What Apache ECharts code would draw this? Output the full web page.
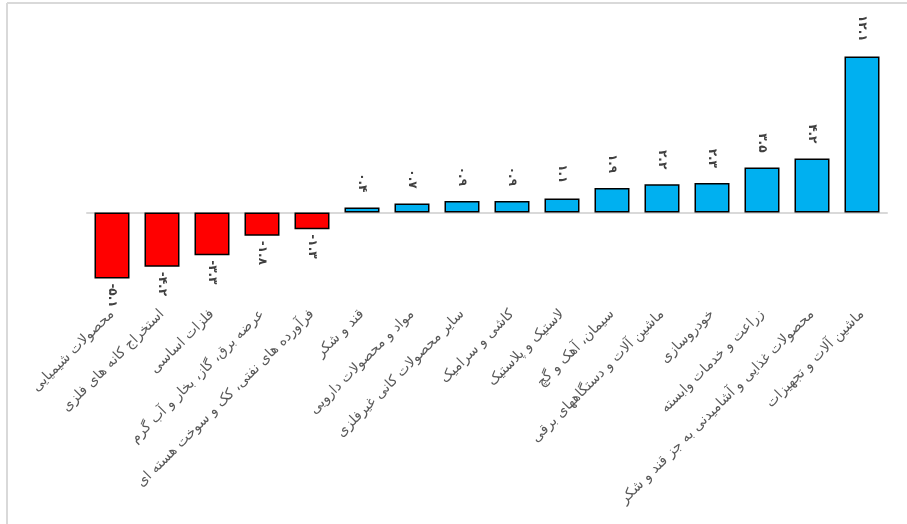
<!DOCTYPE html>
<html>
<head>
<meta charset="utf-8">
<script src="https://cdn.jsdelivr.net/npm/echarts@6/dist/echarts.min.js"></script>
<style>
html,body{margin:0;padding:0;background:#fff;}
#chart{width:907px;height:524px;}
</style>
</head>
<body>
<div id="chart"></div>
<script>
const categories = [
  'محصولات شیمیایی',
  'استخراج کانه های فلزی',
  'فلزات اساسی',
  'عرضه برق، گاز، بخار و آب گرم',
  'فرآورده های نفتی، کک و سوخت هسته ای',
  'قند و شکر',
  'مواد و محصولات دارویی',
  'سایر محصولات کانی غیرفلزی',
  'کاشی و سرامیک',
  'لاستیک و پلاستیک',
  'سیمان، آهک و گچ',
  'ماشین آلات و دستگاههای برقی',
  'خودروسازی',
  'زراعت و خدمات وابسته',
  'محصولات غذایی و آشامیدنی به جز قند و شکر',
  'ماشین آلات و تجهیزات'
];
const values = [-5.1, -4.2, -3.3, -1.8, -1.3, 0.4, 0.7, 0.9, 0.9, 1.1, 1.9, 2.2, 2.3, 3.5, 4.2, 12.1];

const faDigits = '۰۱۲۳۴۵۶۷۸۹';
function toFa(v){
  return v.toFixed(1).replace(/[0-9]/g, d => faDigits[+d]);
}

const RED = '#FF0000', BLUE = '#00B0F0';
const data = values.map(v => ({
  value: v,
  itemStyle: {color: v < 0 ? RED : BLUE},
  label: v < 0
    ? {position: 'bottom', align: 'left', distance: 5}
    : {position: 'top', align: 'right', distance: 15}
}));

const chart = echarts.init(document.getElementById('chart'), null, {renderer: 'canvas'});
chart.setOption({
  animation: false,
  backgroundColor: '#fff',
  grid: {left: 87, width: 800, top: 32, height: 258},
  graphic: [
    {type: 'line', shape: {x1: 7, y1: 3, x2: 907, y2: 3}, style: {stroke: '#d9d9d9', lineWidth: 2}},
    {type: 'line', shape: {x1: 7, y1: 3, x2: 7, y2: 524}, style: {stroke: '#d9d9d9', lineWidth: 2}}
  ],
  xAxis: [
    {
      type: 'category',
      data: categories,
      position: 'bottom',
      axisLine: {show: false, onZero: false},
      axisTick: {show: false},
      axisLabel: {
        interval: 0,
        rotate: 45,
        margin: 22,
        color: '#595959',
        fontSize: 14,
        fontFamily: 'DejaVu Sans'
      }
    },
    {
      type: 'category',
      data: categories,
      position: 'bottom',
      axisLine: {show: true, onZero: true, lineStyle: {color: '#d9d9d9', width: 2}},
      axisTick: {show: false},
      axisLabel: {show: false}
    }
  ],
  yAxis: {
    type: 'value',
    min: -6,
    max: 14,
    interval: 2,
    show: false,
    splitLine: {show: false}
  },
  series: [{
    type: 'bar',
    xAxisIndex: 0,
    data: data,
    barCategoryGap: '30%',
    itemStyle: {borderColor: '#000', borderWidth: 1.5},
    label: {
      show: true,
      rotate: -90,
      verticalAlign: 'middle',
      color: '#404040',
      fontSize: 12,
      fontWeight: 'bold',
      fontFamily: 'DejaVu Sans',
      formatter: p => '\u200E' + (p.value < 0 ? '-' : '') + toFa(Math.abs(p.value))
    }
  }]
});
</script>
</body>
</html>
